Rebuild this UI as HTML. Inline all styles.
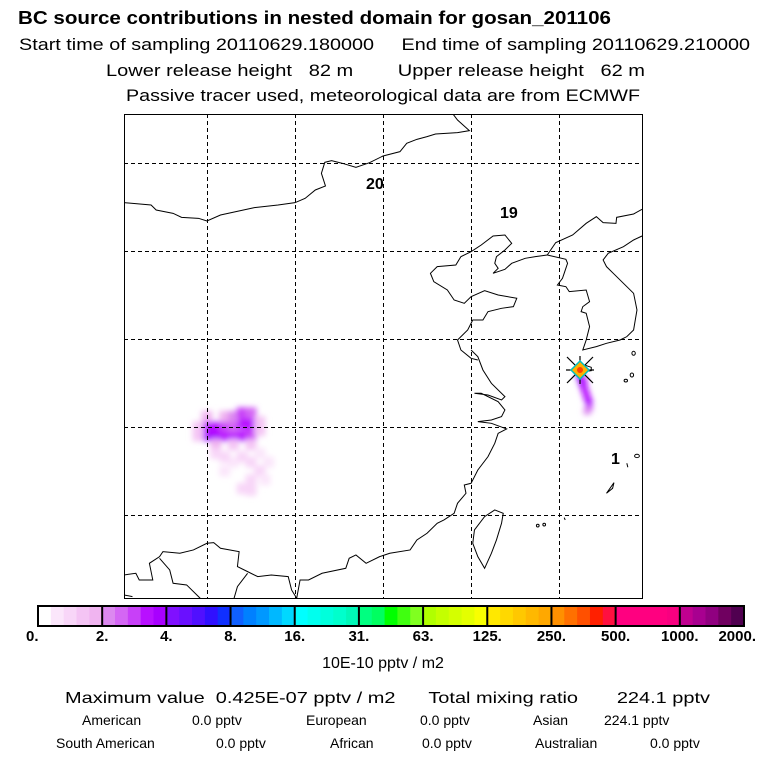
<!DOCTYPE html>
<html><head><meta charset="utf-8"><style>
html,body{margin:0;padding:0;background:#fff;}
svg{display:block;font-family:"Liberation Sans",Arial,sans-serif;}
</style></head><body>
<svg id="chart" width="768" height="768" viewBox="0 0 768 768" xmlns="http://www.w3.org/2000/svg">
<defs>
<filter id="blur" x="-20%" y="-20%" width="140%" height="140%"><feGaussianBlur stdDeviation="3"/></filter>
<clipPath id="mapclip"><rect x="124" y="114" width="518" height="484"/></clipPath>
</defs>
<text x="18" y="24" font-size="18" font-weight="bold" textLength="593" lengthAdjust="spacingAndGlyphs">BC  source contributions in nested domain for gosan_201106</text>
<text x="19" y="50" font-size="17" textLength="731" lengthAdjust="spacingAndGlyphs" xml:space="preserve">Start time of sampling 20110629.180000     End time of sampling 20110629.210000</text>
<text x="106" y="76" font-size="17" textLength="539" lengthAdjust="spacingAndGlyphs" xml:space="preserve">Lower release height   82 m        Upper release height   62 m</text>
<text x="126" y="101" font-size="17" textLength="514" lengthAdjust="spacingAndGlyphs">Passive tracer used, meteorological data are from ECMWF</text>

<g id="map" clip-path="url(#mapclip)">
<g id="plume" filter="url(#blur)"></g>
<g id="grid" stroke="#000" stroke-width="1" stroke-dasharray="4,3"></g>
<g transform="translate(118.92,110) scale(0.3386,0.3333)" fill="none" stroke="#000" stroke-width="1">
<path vector-effect="non-scaling-stroke" d="M15,278 L95,285 110,300 160,310 185,322 235,325 260,333 300,315 400,293 470,285 520,278 550,265 580,240 610,228 598,190 608,157 628,152 660,160 700,172 740,158 780,138 830,125 850,100 880,88 910,80 935,72 1000,68 1035,62 1000,30 985,10"/>
<path vector-effect="non-scaling-stroke" d="M1545,298 L1520,312 1470,322 1468,340 1430,338 1410,320 1380,340 1340,375 1290,398 1265,435"/>
<path vector-effect="non-scaling-stroke" d="M1265,435 L1230,440 1200,445 1160,460 1140,478 1105,490 1120,475 1110,460 1115,440 1140,420 1160,400 1140,375 1105,378 1070,405 1040,425 1010,440 995,465 940,470 920,490 930,515 970,540 990,570 1020,580 1040,560 1080,542 1120,555 1175,565 1165,590 1130,595 1090,605 1075,630 1045,630 1030,660 1000,690 1010,720 1040,745 1060,750"/>
<path vector-effect="non-scaling-stroke" d="M1265,435 L1320,448 1325,460 1315,490 1310,505 1295,525 1320,530 1330,545 1380,540 1390,575 1370,590 1365,605 1380,610 1390,650 1380,690 1370,720 1410,710 1440,700 1480,690 1500,680 1520,660 1530,600 1520,550 1490,520 1460,490 1440,470 1430,450 1445,430 1490,410 1520,390 1545,378"/>
<g transform="translate(0,720)">
<path vector-effect="non-scaling-stroke" d="M1040,0 L1060,20 1075,60 1100,100 1140,140 1130,150 1090,135 1050,130 1070,130 1120,155 1140,180 1130,200 1100,210 1060,215 1100,220 1145,237 1120,250 1110,280 1090,320 1060,360 1040,400 1020,405 1025,430 1000,460 990,490 960,510 940,520 910,550 880,570 860,600 800,610 770,620 730,640 700,615 680,625 670,655 600,670 560,690 535,690 525,745"/>
<path vector-effect="non-scaling-stroke" d="M1110,480 L1135,490 1130,520 1115,570 1100,610 1080,655 1060,620 1045,580 1050,540 1080,500 Z"/>
<path vector-effect="non-scaling-stroke" d="M15,675 L50,670 60,690 100,690 90,640 120,620 130,605 180,610 220,600 260,580 280,578 300,595 355,605 350,650 380,665 410,680 450,675 500,680 510,720 525,745"/>
<path vector-effect="non-scaling-stroke" d="M120,625 L150,660 160,700 200,705 240,745"/>
<path vector-effect="non-scaling-stroke" d="M380,670 L350,710 340,745"/>
<path vector-effect="non-scaling-stroke" d="M15,735 L40,740"/>
<ellipse vector-effect="non-scaling-stroke" cx="1520" cy="10" rx="5" ry="6"/>
<ellipse vector-effect="non-scaling-stroke" cx="1515" cy="75" rx="5" ry="6"/>
<ellipse vector-effect="non-scaling-stroke" cx="1497" cy="92" rx="5" ry="4"/>
<ellipse vector-effect="non-scaling-stroke" cx="1530" cy="318" rx="7" ry="5"/>
<path vector-effect="non-scaling-stroke" d="M1500,340 L1503,352"/>
<path vector-effect="non-scaling-stroke" d="M1440,430 L1462,398 1458,415 Z"/>
<ellipse vector-effect="non-scaling-stroke" cx="1237" cy="527" rx="4" ry="4"/>
<ellipse vector-effect="non-scaling-stroke" cx="1256" cy="524" rx="4" ry="4"/>
<path vector-effect="non-scaling-stroke" d="M1315,503 L1318,510"/>
<path vector-effect="non-scaling-stroke" d="M1360,40 L1395,52 1395,62 1370,65"/>
</g>
</g>
<text x="366" y="189" font-size="16" font-weight="bold">20</text>
<text x="500" y="218" font-size="16" font-weight="bold">19</text>
<text x="611" y="464" font-size="16" font-weight="bold">1</text>
<g>
<g stroke="#000" stroke-width="1.2"><line x1="567" y1="357" x2="593" y2="383"/><line x1="593" y1="357" x2="567" y2="383"/><line x1="580" y1="356" x2="580" y2="384"/><line x1="566" y1="370" x2="594" y2="370"/></g>
<polygon points="580,361 589,370 580,379 571,370" fill="#ffb000" stroke="#00c0c0" stroke-width="1.5"/>
<circle cx="580" cy="370" r="3" fill="#ff4000"/>
</g>
</g>
<rect x="124.5" y="114.5" width="518" height="484" fill="none" stroke="#000" stroke-width="1"/>

<g id="colorbar"></g>
<g id="cblabels" font-size="15" font-weight="bold"></g>
<text x="383" y="668" font-size="16" text-anchor="middle">10E-10 pptv / m2</text>

<g xml:space="preserve">
<text x="65" y="703" font-size="16" textLength="645" lengthAdjust="spacingAndGlyphs" xml:space="preserve">Maximum value  0.425E-07 pptv / m2      Total mixing ratio       224.1 pptv</text>
<g font-size="14">
<text x="82" y="725">American</text>
<text x="192" y="725">0.0 pptv</text>
<text x="306" y="725">European</text>
<text x="420" y="725">0.0 pptv</text>
<text x="533" y="725">Asian</text>
<text x="604" y="725">224.1 pptv</text>
<text x="56" y="748">South American</text>
<text x="216" y="748">0.0 pptv</text>
<text x="330" y="748">African</text>
<text x="422" y="748">0.0 pptv</text>
<text x="535" y="748">Australian</text>
<text x="650" y="748">0.0 pptv</text>
</g>
</g>
</svg>
<script>
const NS='http://www.w3.org/2000/svg';
// color scale data
const levelLabels=['0.','2.','4.','8.','16.','31.','63.','125.','250.','500.','1000.','2000.'];
const levelValues=[0,2,4,8,16,31,63,125,250,500,1000,2000];
const segmentColors=[
['#ffffff','#fbe6fb','#f8d6f8','#f4c4f4','#f0b4f0'],
['#dc88f0','#d466f4','#c840f8','#b810ff','#a800ff'],
['#8010ff','#6a10ff','#5010ff','#3010ff','#1030ff'],
['#1060ff','#0080ff','#0098ff','#00b8ff','#00d8ff'],
['#00ffff','#00ffee','#00ffdc','#00ffcc','#00f8b8'],
['#00ff80','#00ff60','#00ff00','#40ff10','#80ff20'],
['#b0ff00','#c4ff00','#d4ff00','#e4ff00','#f8ff00'],
['#ffe800','#ffd800','#ffc800','#ffb800','#ffa800'],
['#ff9000','#ff7000','#ff5000','#ff2000','#ff1040'],
['#ff0080','#ff0080','#ff0080','#ff0080','#f80080'],
['#c00090','#a80090','#900080','#700060','#500050']];
// plume cells (lon, lat, value in 10E-10 pptv/m2)
const plumeLon=[105.0,105.5,106.0,106.5,107.0,107.5,105.0,105.5,106.0,106.5,107.0,107.5,106.0,106.5,107.0,107.5,105.0,104.5,104.5,108.0,108.0,105.5,106.5,107.5,105.5,106.0,106.5,107.0,107.5,108.0,108.5,108.0,107.5,107.0,107.5,108.3,106.0,126.2,126.3,126.4,126.5,126.6,126.7,126.7,126.6,126.4];
const plumeLat=[29.5,29.5,29.5,29.5,29.5,29.6,30.0,30.0,30.0,30.0,30.2,30.2,30.6,30.6,30.8,30.8,30.6,30.0,29.5,30.3,29.8,29.0,29.0,29.0,28.5,27.5,28.0,28.3,28.0,28.5,28.0,27.5,27.0,26.5,26.4,27.0,28.3,32.9,32.6,32.3,32.0,31.7,31.4,31.1,30.9,32.6];
const plumeVal=[3.6,3.8,3.4,3.2,3.2,3.0,3.2,3.4,3.0,2.8,3.2,3.2,1.6,2.4,3.0,2.8,1.6,1.2,1.4,1.2,1.4,1.6,1.4,1.4,1.0,0.7,0.7,0.8,0.9,0.7,0.6,0.8,0.9,0.8,0.8,0.6,0.9,4.2,4.5,3.8,3.5,3.2,3.6,3.0,2.4,3.5];

const gridLons=[105,110,115,120,125];
const gridLats=[45,40,35,30,25];
function xLon(lon){return 207+(lon-105)*17.6;}
function yLat(lat){return 339-(lat-35)*17.6;}
function colorFor(v){
  for(let i=0;i<levelValues.length-1;i++){
    if(v<levelValues[i+1]||i===levelValues.length-2){
      let f=(v-levelValues[i])/(levelValues[i+1]-levelValues[i]);
      let k=Math.max(0,Math.min(4,Math.floor(f*5)));
      return segmentColors[i][k];
    }
  }
}
// grid
const grid=document.getElementById('grid');
gridLons.forEach(lon=>{
  const l=document.createElementNS(NS,'line');
  
  
  const x=Math.round(xLon(lon))+0.5;
  l.setAttribute('x1',x);l.setAttribute('x2',x);l.setAttribute('y1',114);l.setAttribute('y2',598);
  grid.appendChild(l);
});
gridLats.forEach(lat=>{
  const l=document.createElementNS(NS,'line');
  
  
  const y=Math.round(yLat(lat))+0.5;
  l.setAttribute('y1',y);l.setAttribute('y2',y);l.setAttribute('x1',124);l.setAttribute('x2',642);
  grid.appendChild(l);
});
// plume
const plume=document.getElementById('plume');
plumeLon.forEach((lon,i)=>{
  const r=document.createElementNS(NS,'rect');
  
  
  const w=lon>120?7:11;
  r.setAttribute('x',xLon(lon)-w/2);r.setAttribute('y',yLat(plumeLat[i])-w/2);
  r.setAttribute('width',w);r.setAttribute('height',w);
  r.setAttribute('fill',colorFor(plumeVal[i]));
  plume.appendChild(r);
});
// colorbar
const cb=document.getElementById('colorbar');
const cbX0=38,cbX1=744,cbY=606,cbH=20;
const segW=(cbX1-cbX0)/segmentColors.length;
segmentColors.forEach((cols,i)=>{
  cols.forEach((c,k)=>{
    const r=document.createElementNS(NS,'rect');
    
    
    r.setAttribute('x',cbX0+i*segW+k*segW/5);r.setAttribute('y',cbY);
    r.setAttribute('width',segW/5+0.5);r.setAttribute('height',cbH);
    r.setAttribute('fill',c);
    cb.appendChild(r);
  });
});
for(let i=0;i<=segmentColors.length;i++){
  const l=document.createElementNS(NS,'line');
  
  
  const x=cbX0+i*segW;
  l.setAttribute('x1',x);l.setAttribute('x2',x);l.setAttribute('y1',cbY);l.setAttribute('y2',cbY+cbH);
  l.setAttribute('stroke','#000');l.setAttribute('stroke-width',2);
  cb.appendChild(l);
}
const fr=document.createElementNS(NS,'rect');


fr.setAttribute('x',cbX0);fr.setAttribute('y',cbY);fr.setAttribute('width',cbX1-cbX0);fr.setAttribute('height',cbH);
fr.setAttribute('fill','none');fr.setAttribute('stroke','#000');fr.setAttribute('stroke-width',2);
cb.appendChild(fr);
const cbl=document.getElementById('cblabels');
levelLabels.forEach((t,i)=>{
  const tx=document.createElementNS(NS,'text');
  
  
  let x=cbX0+i*segW;
  if(i===0)x=26; if(i===levelLabels.length-1)x=cbX1+12;
  tx.setAttribute('x',x);tx.setAttribute('y',641);
  tx.setAttribute('text-anchor',i===0?'start':(i===levelLabels.length-1?'end':'middle'));
  tx.textContent=t;
  cbl.appendChild(tx);
});
</script>
</body></html>
